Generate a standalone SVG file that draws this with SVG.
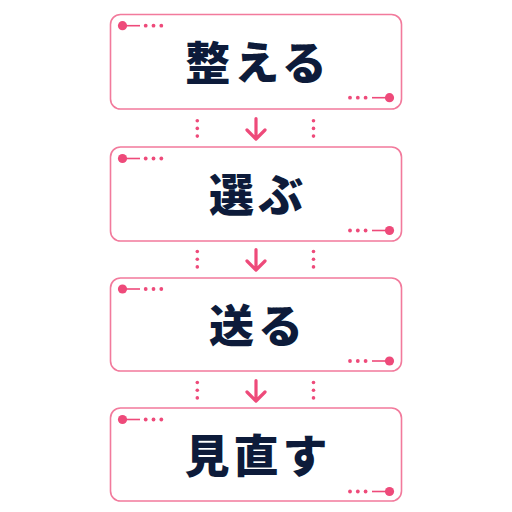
<svg xmlns="http://www.w3.org/2000/svg" width="512" height="512" viewBox="0 0 512 512">
<defs>
<style>
.box{fill:#fff;stroke:#f27a9c;stroke-width:1.6}
.dot{fill:#ee4a7a}
.ln{stroke:#ee4a7a;stroke-width:1.6}
.lbl{font-family:"Noto Sans CJK JP","Noto Sans CJK SC",sans-serif;font-weight:900;font-size:45px;fill:#0d1b3a;text-anchor:middle;letter-spacing:4px}
.arr{fill:none;stroke:#ee4a7a;stroke-width:3.2;stroke-linecap:round;stroke-linejoin:round}
</style>
<g id="deco">
<line class="ln" x1="122" y1="0" x2="140" y2="0"/>
<circle class="dot" cx="122.5" cy="0" r="4.6"/>
<circle class="dot" cx="145.7" cy="0" r="1.9"/>
<circle class="dot" cx="153.5" cy="0" r="1.9"/>
<circle class="dot" cx="161.3" cy="0" r="1.9"/>
<circle class="dot" cx="350" cy="72" r="1.9"/>
<circle class="dot" cx="357.8" cy="72" r="1.9"/>
<circle class="dot" cx="365.6" cy="72" r="1.9"/>
<line class="ln" x1="372" y1="72" x2="389" y2="72"/>
<circle class="dot" cx="389.5" cy="72" r="4.6"/>
</g>
<g id="gapdots">
<circle class="dot" cx="197.3" cy="0" r="1.8"/>
<circle class="dot" cx="197.3" cy="7.7" r="1.8"/>
<circle class="dot" cx="197.3" cy="15.4" r="1.8"/>
<circle class="dot" cx="313.5" cy="0" r="1.8"/>
<circle class="dot" cx="313.5" cy="7.7" r="1.8"/>
<circle class="dot" cx="313.5" cy="15.4" r="1.8"/>
</g>
</defs>
<rect width="512" height="512" fill="#fff"/>
<g id="connectors">
<use href="#gapdots" y="120.7"/>
<path class="arr" d="M256 118.5V138M247 130l9 9 9-9"/>
<use href="#gapdots" y="251.5"/>
<path class="arr" d="M256 249.5V269M247 261l9 9 9-9"/>
<use href="#gapdots" y="382.5"/>
<path class="arr" d="M256 380.5V400M247 392l9 9 9-9"/>
</g>
<g id="node1">
<rect class="box" x="110.5" y="14.5" width="291" height="94.5" rx="10"/>
<use href="#deco" y="25.7"/>
<text class="lbl" x="258" y="80">整える</text>
</g>
<g id="node2">
<rect class="box" x="110.5" y="147" width="291" height="94" rx="10"/>
<use href="#deco" y="158.5"/>
<text class="lbl" x="258" y="212">選ぶ</text>
</g>
<g id="node3">
<rect class="box" x="110.5" y="278" width="291" height="93" rx="10"/>
<use href="#deco" y="289"/>
<text class="lbl" x="258" y="343">送る</text>
</g>
<g id="node4">
<rect class="box" x="110.5" y="408" width="291" height="93" rx="10"/>
<use href="#deco" y="419.5"/>
<text class="lbl" x="258" y="473">見直す</text>
</g>
</svg>
